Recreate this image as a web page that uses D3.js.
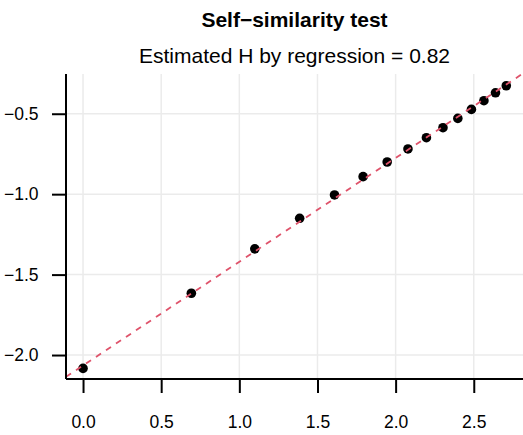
<!DOCTYPE html>
<html>
<head>
<meta charset="utf-8">
<script src="https://cdn.jsdelivr.net/npm/d3@7"></script>
<style>
  body { margin: 0; background: #fff; }
  text { font-family: "Liberation Sans", Arial, sans-serif; }
</style>
</head>
<body>
<script>
// log(m) vs log of the statistic
var logM = [0, 0.693, 1.099, 1.386, 1.609, 1.792, 1.946, 2.079, 2.197, 2.303, 2.398, 2.485, 2.565, 2.639, 2.708];
var logStat = [-2.083, -1.616, -1.340, -1.150, -1.005, -0.891, -0.800, -0.719, -0.649, -0.587, -0.529, -0.473, -0.419, -0.370, -0.326];
var fit = { intercept: -2.065, slope: 0.645 };
var xTicks = [0, 0.5, 1, 1.5, 2, 2.5];
var yTicks = [-2, -1.5, -1, -0.5];
var title = "Self\u2212similarity test";
var subtitle = "Estimated H by regression = 0.82";

var w = 523, h = 435;
var pLeft = 66, pRight = 523, pTop = 74, pBottom = 379;

var svg = d3.select("body").append("svg")
    .attr("width", w)
    .attr("height", h);

var x = d3.scaleLinear().domain([-0.109, 2.815]).range([pLeft, pRight]);
var y = d3.scaleLinear().domain([-2.149, -0.253]).range([pBottom, pTop]);

var fmt = function(d) { return d3.format(".1f")(d).replace("-", "\u2212"); };

// grid
svg.append("g").selectAll("line").data(xTicks).enter().append("line")
    .attr("x1", d => x(d)).attr("x2", d => x(d))
    .attr("y1", pTop).attr("y2", pBottom)
    .attr("stroke", "#ebebeb").attr("stroke-width", 1.5);
svg.append("g").selectAll("line").data(yTicks).enter().append("line")
    .attr("x1", pLeft).attr("x2", pRight)
    .attr("y1", d => y(d)).attr("y2", d => y(d))
    .attr("stroke", "#ebebeb").attr("stroke-width", 1.5);

// points
svg.append("g").selectAll("circle").data(logM).enter().append("circle")
    .attr("cx", d => x(d))
    .attr("cy", (d, i) => y(logStat[i]))
    .attr("r", 4.8)
    .attr("fill", "#000");

// regression line (drawn over the points)
svg.append("clipPath").attr("id", "clip").append("rect")
    .attr("x", pLeft).attr("y", pTop).attr("width", pRight - pLeft).attr("height", pBottom - pTop);
var xd = x.domain();
svg.append("line")
    .attr("clip-path", "url(#clip)")
    .attr("x1", x(xd[0])).attr("y1", y(fit.intercept + fit.slope * xd[0]))
    .attr("x2", x(xd[1])).attr("y2", y(fit.intercept + fit.slope * xd[1]))
    .attr("stroke", "#DF536B").attr("stroke-width", 1.8)
    .attr("stroke-dasharray", "6,6");

// axes
var xAxis = d3.axisBottom(x).tickValues(xTicks).tickSize(14).tickPadding(23).tickFormat(fmt);
var gx = svg.append("g").attr("transform", "translate(0," + pBottom + ")").call(xAxis);
gx.select(".domain").attr("d", "M" + pLeft + ",0H" + pRight);
var yAxis = d3.axisLeft(y).tickValues(yTicks).tickSize(14).tickPadding(13.5).tickFormat(fmt);
var gy = svg.append("g").attr("transform", "translate(" + pLeft + ",0)").call(yAxis);
gy.select(".domain").attr("d", "M0," + pTop + "V" + pBottom);

svg.selectAll(".domain, .tick line").attr("stroke", "#000").attr("stroke-width", 2);
svg.selectAll(".tick text").attr("font-size", 17.5).attr("fill", "#000")
    .style("font-family", "'Liberation Sans', Arial, sans-serif");

// titles
svg.append("text")
    .attr("x", (pLeft + pRight) / 2).attr("y", 27)
    .attr("text-anchor", "middle")
    .attr("font-size", 21).attr("font-weight", "bold")
    .text(title);
svg.append("text")
    .attr("x", (pLeft + pRight) / 2).attr("y", 63)
    .attr("text-anchor", "middle")
    .attr("font-size", 21)
    .text(subtitle);
</script>
</body>
</html>
